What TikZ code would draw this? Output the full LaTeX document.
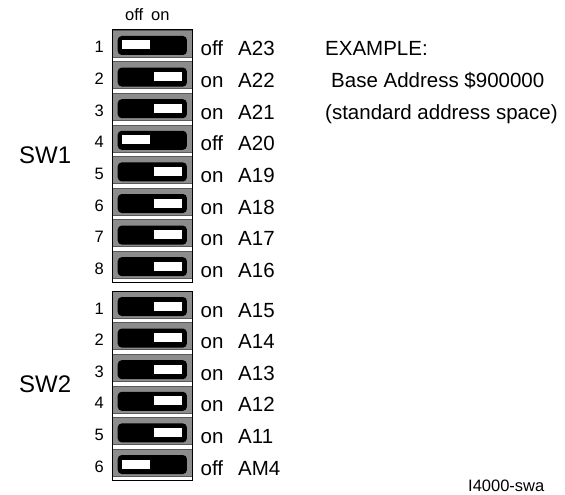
\documentclass[tikz,border=0pt]{standalone}
\usepackage{fontspec}
\setmainfont{Liberation Sans}
\begin{document}
\begin{tikzpicture}[x=1pt,y=-1pt,
  hatchc/.style={fill=black!45,draw=black!65,line width=0.5pt},
  bodyc/.style={fill=black,rounded corners=4pt},
  sliderc/.style={fill=white},
  framec/.style={draw=black,line width=1pt},
  lbl/.style={inner sep=0pt,font=\fontsize{20.5}{24}\selectfont},
  numlbl/.style={inner sep=0pt,font=\fontsize{16.5}{20}\selectfont},
  swlbl/.style={inner sep=0pt,font=\fontsize{24}{28}\selectfont}]
\useasboundingbox (0,0) rectangle (565,495);
% header
\node[numlbl,anchor=base west] (hoff) at (125,21) {off};
\node[numlbl,anchor=base west] (hon) at (151,21) {on};
% SW1
\foreach \i/\sx/\s/\a in {1/122/off/A23,2/154/on/A22,3/154/on/A21,4/122/off/A20,5/154/on/A19,6/154/on/A18,7/154/on/A17,8/154/on/A16}{
  \pgfmathsetmacro\t{30+31.6*(\i-1)}
  \path[hatchc] (112,\t) rectangle (192,\t+27);
  \path[bodyc] (117.7,\t+6) rectangle (186.9,\t+25);
  \path[sliderc] (\sx,\t+10.5) rectangle (\sx+27.5,\t+19.5);
  \node[numlbl,anchor=base east] (sa\i) at (104,\t+23) {\i};
  \node[lbl,anchor=base west] (sas\i) at (200.5,\t+26) {\s};
  \node[lbl,anchor=base west] (saa\i) at (238,\t+26) {\a};
}
\path[framec] (112,30) rectangle (192,282.8);
\node[swlbl,anchor=base west] (swone) at (19,163) {SW1};
% SW2
\foreach \i/\sx/\s/\a in {1/154/on/A15,2/154/on/A14,3/154/on/A13,4/154/on/A12,5/154/on/A11,6/122/off/AM4}{
  \pgfmathsetmacro\t{291+31.6*(\i-1)}
  \path[hatchc] (112,\t) rectangle (192,\t+27);
  \path[bodyc] (117.7,\t+6) rectangle (186.9,\t+25);
  \path[sliderc] (\sx,\t+10.5) rectangle (\sx+27.5,\t+19.5);
  \node[numlbl,anchor=base east] (sb\i) at (104,\t+23) {\i};
  \node[lbl,anchor=base west] (sbs\i) at (200.5,\t+26) {\s};
  \node[lbl,anchor=base west] (sba\i) at (238,\t+26) {\a};
}
\path[framec] (112,291) rectangle (192,480.6);
\node[swlbl,anchor=base west] (swtwo) at (19,392) {SW2};
% example text
\node[lbl,anchor=base west] (ex1) at (325,56) {EXAMPLE:};
\node[lbl,anchor=base west] (ex2) at (331,87.6) {Base Address \$900000};
\node[lbl,anchor=base west] (ex3) at (325,119.2) {(standard address space)};
\node[numlbl,anchor=base west] (tag) at (468,491) {I4000-swa};
\end{tikzpicture}
\end{document}
